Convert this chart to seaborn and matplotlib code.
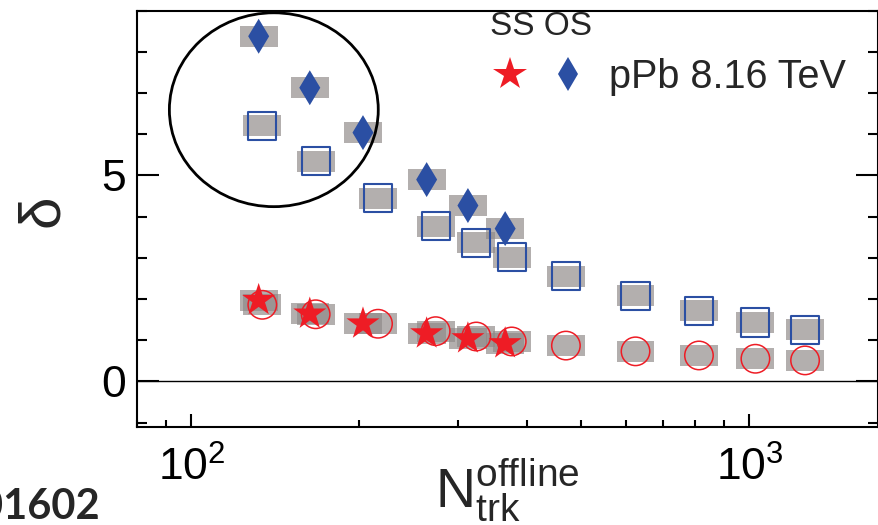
import numpy as np
import seaborn as sns
import matplotlib.pyplot as plt
from matplotlib.patches import Ellipse
from matplotlib.lines import Line2D
from matplotlib.legend_handler import HandlerTuple
from matplotlib.ticker import MultipleLocator, LogLocator, NullFormatter

# pPb 8.16 TeV (SS = stars, OS = diamonds)
ntrk_pPb = [132, 163, 203, 264, 313, 365]
delta_ss_pPb = [1.97, 1.64, 1.40, 1.16, 1.04, 0.92]
delta_os_pPb = [8.38, 7.13, 6.04, 4.90, 4.27, 3.71]

# second data set (SS = open circles, OS = open squares)
ntrk_ref = [134, 167, 216, 274, 324, 375, 469, 625, 812, 1025, 1258]
delta_ss_ref = [1.86, 1.63, 1.40, 1.22, 1.09, 0.97, 0.87, 0.73, 0.63, 0.55, 0.51]
delta_os_ref = [6.21, 5.35, 4.45, 3.77, 3.37, 3.02, 2.55, 2.08, 1.72, 1.43, 1.25]

RED = '#ee1c25'
BLUE = '#2b4fa3'
GRAY = '#8f8988'

sns.set_style("ticks")
plt.rcParams['font.family'] = ['Liberation Sans', 'DejaVu Sans']
plt.rcParams['mathtext.fontset'] = 'custom'
plt.rcParams['mathtext.rm'] = 'Liberation Sans'
plt.rcParams['mathtext.default'] = 'regular'


def sys_boxes(ax, x, y, half_w=0.034, half_h=0.255):
    # systematic uncertainty boxes (fixed width in log-x)
    x = np.asarray(x, dtype=float)
    y = np.asarray(y, dtype=float)
    left = x * 10 ** -half_w
    width = x * (10 ** half_w - 10 ** -half_w)
    ax.bar(left, 2 * half_h, width=width, bottom=y - half_h, align='edge',
           color=GRAY, alpha=0.68, linewidth=0, zorder=1)


fig = plt.figure(figsize=(8.79, 5.25), dpi=100)
ax = fig.add_axes([0.1562, 0.1872, 0.8427, 0.7924])
ax.set_xscale('log')

# gray boxes first
for xs, ys in [(ntrk_ref, delta_os_ref), (ntrk_ref, delta_ss_ref),
               (ntrk_pPb, delta_os_pPb), (ntrk_pPb, delta_ss_pPb)]:
    sys_boxes(ax, xs, ys)

ax.axhline(0, color='black', lw=1.0, zorder=2)

# open markers
sns.scatterplot(x=ntrk_ref, y=delta_os_ref, marker='s', s=408, color=BLUE,
                facecolor='none', edgecolor=BLUE, linewidth=1.5, ax=ax, zorder=3)
sns.scatterplot(x=ntrk_ref, y=delta_ss_ref, marker='o', s=420, color=RED,
                facecolor='none', edgecolor=RED, linewidth=1.1, ax=ax, zorder=3)
# filled markers
sns.scatterplot(x=ntrk_pPb, y=delta_os_pPb, marker='d', s=317, color=BLUE,
                edgecolor='none', linewidth=0, ax=ax, zorder=4)
sns.scatterplot(x=ntrk_pPb, y=delta_ss_pPb, marker='*', s=625, color=RED,
                edgecolor='none', linewidth=0, ax=ax, zorder=4)

ax.set_xlim(80, 1700)
ax.set_ylim(-1.1, 9)

# axes / ticks
for sp in ax.spines.values():
    sp.set_visible(True)
    sp.set_linewidth(1.5)
    sp.set_color('black')
ax.xaxis.set_major_locator(LogLocator(base=10))
ax.xaxis.set_minor_locator(LogLocator(base=10, subs=np.arange(2, 10)))
ax.xaxis.set_minor_formatter(NullFormatter())
ax.yaxis.set_major_locator(MultipleLocator(5))
ax.yaxis.set_minor_locator(MultipleLocator(1))
ax.tick_params(axis='x', which='both', direction='in', top=False, bottom=True,
               labelsize=32, pad=14, width=1.5, colors='black')
ax.tick_params(axis='x', which='major', length=9.5)
ax.tick_params(axis='x', which='minor', length=5)
ax.tick_params(axis='y', which='both', direction='in', left=True, right=True,
               labelsize=32, pad=8, width=1.5, colors='black')
ax.tick_params(axis='y', which='major', length=16)
ax.tick_params(axis='y', which='minor', length=7.5)

ax.set_xlabel(r'$N_{trk}^{offline}$', fontsize=40)
ax.xaxis.set_label_coords(0.5, -0.07)
ax.set_ylabel('δ', fontsize=42)
ax.yaxis.set_label_coords(-0.091, 0.52)

# circled low-multiplicity region
ax.add_patch(Ellipse((0.1843, 0.762), 0.282, 0.466, transform=ax.transAxes,
                     fill=False, edgecolor='black', lw=2.0, zorder=5))

# legend: SS star, OS diamond
star_h = Line2D([], [], marker='*', ls='', color=RED, markeredgewidth=0, markersize=25)
diam_h = Line2D([], [], marker='d', ls='', color=BLUE, markeredgewidth=0, markersize=17.8)
leg = ax.legend(handles=[(star_h, diam_h)], labels=['pPb 8.16 TeV'],
                handler_map={tuple: HandlerTuple(ndivide=None, pad=0.45)},
                title='SS OS', title_fontsize=24, fontsize=28.5, frameon=False,
                loc='upper left', bbox_to_anchor=(0.476, 1.0), borderpad=0,
                borderaxespad=0, handlelength=2.48, handletextpad=0.52,
                labelspacing=0.42, alignment='left')

fig.text(0.1138, 0.0114, '01602', fontsize=30, fontweight='bold',
         family='Lato', ha='right', va='baseline')

plt.savefig('out.png', dpi=100)
